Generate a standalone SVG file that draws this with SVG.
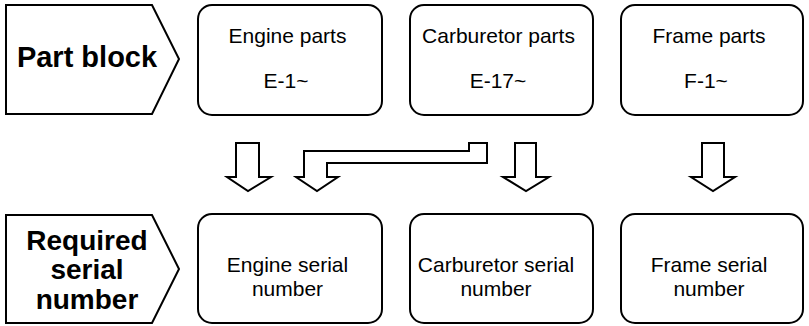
<svg xmlns="http://www.w3.org/2000/svg" width="809" height="326" viewBox="0 0 809 326">
<style>
.shape{fill:#fff;stroke:#000;stroke-width:2;stroke-linejoin:miter}
.arrow{fill:#fff;stroke:#000;stroke-width:2;stroke-linejoin:miter}
.lbl{font-family:"Liberation Sans",Arial,sans-serif;font-size:21px;fill:#000;text-anchor:middle}
.big{font-family:"Liberation Sans",Arial,sans-serif;font-size:29px;font-weight:bold;fill:#000;text-anchor:middle}
.big2{font-family:"Liberation Sans",Arial,sans-serif;font-size:28px;font-weight:bold;fill:#000;text-anchor:middle}
</style>
<rect width="809" height="326" fill="#fff"/>
<g id="part-block">
<polygon class="shape" points="6,5 152,5 179,59 152,114 6,114"/>
<text class="big" x="87" y="67">Part block</text>
</g>
<g id="engine-parts">
<rect class="shape" x="198" y="5" width="184" height="110" rx="14"/>
<text class="lbl" x="287.5" y="43">Engine parts</text>
<text class="lbl" x="286" y="88">E-1~</text>
</g>
<g id="carburetor-parts">
<rect class="shape" x="410" y="5" width="183" height="110" rx="14"/>
<text class="lbl" x="498.5" y="43">Carburetor parts</text>
<text class="lbl" x="498" y="88">E-17~</text>
</g>
<g id="frame-parts">
<rect class="shape" x="621" y="5" width="182" height="110" rx="14"/>
<text class="lbl" x="709" y="43">Frame parts</text>
<text class="lbl" x="706" y="88">F-1~</text>
</g>
<g id="required-serial">
<polygon class="shape" points="6,215 152,215 179,269 152,323 6,323"/>
<text class="big2" x="87" y="249.5">Required</text>
<text class="big2" x="87" y="279">serial</text>
<text class="big2" x="87" y="308.5">number</text>
</g>
<g id="engine-serial">
<rect class="shape" x="198" y="214" width="184" height="109" rx="14"/>
<text class="lbl" x="287.5" y="272">Engine serial</text>
<text class="lbl" x="287.5" y="296">number</text>
</g>
<g id="carburetor-serial">
<rect class="shape" x="410" y="214" width="183" height="109" rx="14"/>
<text class="lbl" x="496" y="272">Carburetor serial</text>
<text class="lbl" x="496" y="296">number</text>
</g>
<g id="frame-serial">
<rect class="shape" x="621" y="214" width="182" height="109" rx="14"/>
<text class="lbl" x="709" y="272">Frame serial</text>
<text class="lbl" x="709" y="296">number</text>
</g>
<g id="connectors">
<path class="arrow" d="M236,143 H259 V177 H271 L248,191 L227,177 H236 Z"/>
<path class="arrow" d="M304,151 H469 V143 H487 V163 H327 V177 H338 L317,191 L296,177 H304 Z"/>
<path class="arrow" d="M515,143 H536 V177 H549 L526,191 L503,177 H515 Z"/>
<path class="arrow" d="M702,143 H724 V177 H735 L713,191 L691,177 H702 Z"/>
</g>
</svg>
